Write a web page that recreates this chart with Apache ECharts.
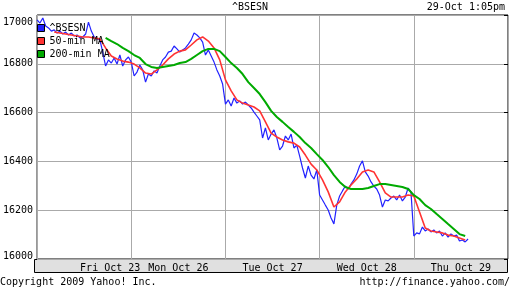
<!DOCTYPE html>
<html><head><meta charset="utf-8">
<script src="https://cdn.jsdelivr.net/npm/echarts@6/dist/echarts.min.js"></script>
<style>html,body{margin:0;padding:0;background:#fff}#c{width:512px;height:288px}</style>
</head><body><div id="c"></div>
<script>
// Day labels (x axis band)
const dayLabels = ['Fri Oct 23', 'Mon Oct 26', 'Tue Oct 27', 'Wed Oct 28', 'Thu Oct 29'];
const minutesPerDay = 330;
const dayCount = 5;

// ^BSESN price, one reading every 10 trading minutes from the start of Fri
const bseStart = 0, bseStep = 10;
const bse = [
  16980,16967,16988,16955,16947,16934,16939,16926,16934,16922,16930,16918,16926,16914,16918,16906,16910,16922,16971,16934,
  16910,16902,16898,16848,16791,16816,16803,16824,16799,16836,16791,16816,16828,16807,16750,16766,16795,16775,16725,16758,
  16750,16771,16762,16791,16816,16828,16848,16852,16873,16861,16848,16857,16865,16881,16898,16926,16918,16906,16889,16836,
  16857,16832,16807,16775,16750,16717,16635,16652,16627,16660,16639,16648,16635,16643,16631,16619,16602,16586,16570,16496,
  16537,16488,16512,16529,16496,16447,16463,16504,16488,16512,16455,16467,16422,16373,16332,16381,16344,16328,16365,16262,
  16242,16221,16201,16168,16144,16221,16258,16279,16299,16287,16307,16324,16348,16381,16402,16357,16340,16316,16299,16287,
  16262,16213,16242,16238,16250,16258,16242,16262,16238,16254,16291,16275,16094,16107,16103,16131,16115,16123,16111,16119,
  16107,16115,16094,16107,16090,16103,16094,16098,16074,16078,16070,16082
];

// 50-min moving average, one reading every 20 minutes
const ma50Start = 60, ma50Step = 20;
const ma50 = [
  16930,16926,16922,16918,16914,16910,16910,16906,16902,16865,16832,16820,16811,16807,16799,16783,16762,16758,16775,16795,
  16820,16840,16852,16857,16877,16898,16910,16893,16865,16816,16734,16689,16652,16639,16631,16623,16607,16562,16516,16500,
  16488,16480,16475,16459,16426,16389,16365,16324,16275,16213,16234,16275,16303,16328,16357,16365,16357,16316,16271,16254,
  16254,16254,16262,16258,16193,16127,16115,16111,16107,16098,16094,16086,16078
];

// 200-min moving average, one reading every 20 minutes
const ma200Start = 240, ma200Step = 20;
const ma200 = [
  16906,16893,16881,16865,16852,16836,16824,16799,16787,16783,16787,16791,16795,16803,16807,16820,16836,16852,16861,16861,
  16852,16828,16803,16783,16758,16725,16701,16676,16643,16607,16582,16562,16541,16521,16500,16475,16455,16430,16406,16377,
  16344,16316,16295,16287,16287,16287,16291,16299,16307,16307,16303,16299,16295,16287,16262,16246,16221,16205,16184,16164,
  16143,16123,16102,16094
];

const seriesNames = ['^BSESN', '50-min MA', '200-min MA'];
const titleText = '^BSESN';
const stampText = '29-Oct 1:05pm';
const copyrightText = 'Copyright 2009 Yahoo! Inc.';
const urlText = 'http://finance.yahoo.com/';

const toPairs = (arr, start, step) => arr.map((v, i) => [start + i * step, v]);
const FONT = 'DejaVu Sans Mono';
const txt = { fontFamily: FONT, fontSize: 10, color: '#000', fontWeight: 'normal' };

const chart = echarts.init(document.getElementById('c'), null, { renderer: 'canvas' });
chart.setOption({
  animation: false,
  backgroundColor: '#fff',
  title: [
    { text: titleText, left: 232, top: 2, padding: 0, textStyle: txt },
    { text: stampText, right: 7, top: 2, padding: 0, textStyle: txt },
    { text: copyrightText, left: 0, top: 277, padding: 0, textStyle: txt },
    { text: urlText, right: 2, top: 277, padding: 0, textStyle: txt }
  ],
  legend: {
    orient: 'vertical', left: 37, top: 22, padding: 0,
    itemWidth: 7, itemHeight: 7, itemGap: 1, icon: 'rect',
    selectedMode: false,
    itemStyle: { borderColor: '#000', borderWidth: 1 },
    textStyle: Object.assign({ lineHeight: 12 }, txt),
    data: seriesNames
  },
  grid: { left: 34, top: 15, width: 474, height: 244, show: true, borderColor: '#000', borderWidth: 1, backgroundColor: '#fff', containLabel: false },
  graphic: [{
    type: 'rect', z: 0, silent: true,
    shape: { x: 34.5, y: 259.5, width: 473, height: 13 },
    style: { fill: '#e0e0e0', stroke: '#000', lineWidth: 1 }
  }],
  xAxis: [
    {
      type: 'value', min: 0, max: minutesPerDay * dayCount, interval: minutesPerDay,
      axisLine: { show: false }, axisTick: { show: false }, axisLabel: { show: false },
      splitLine: { show: true, lineStyle: { color: '#aaaaaa', width: 1 } }
    },
    {
      type: 'category', data: dayLabels, position: 'bottom', boundaryGap: true, z: 5,
      axisLine: { show: false }, axisTick: { show: false }, splitLine: { show: false },
      axisLabel: Object.assign({
        margin: 4, interval: 0,
        formatter: (v, i) => i === 0 ? '{f|' + v + '}' : v,
        rich: { f: Object.assign({ padding: [0, 0, 0, 52] }, txt) }
      }, txt)
    }
  ],
  yAxis: [
    {
      type: 'value', min: 16000, max: 17000, interval: 200, position: 'left',
      axisLine: { show: false }, axisTick: { show: false },
      splitLine: { show: true, lineStyle: { color: '#aaaaaa', width: 1 } },
      axisLabel: Object.assign({
        margin: 4,
        formatter: v => v === 17000 ? '{t|' + v + '}' : (v === 16000 ? '{b|' + v + '}' : String(v)),
        rich: {
          t: Object.assign({ padding: [14, 0, 0, 0] }, txt),
          b: Object.assign({ padding: [0, 0, 6, 0] }, txt)
        }
      }, txt)
    },
    {
      type: 'value', min: 16000, max: 17000, interval: 200, position: 'right',
      axisLine: { show: false },
      axisTick: { show: true, inside: true, length: 4, lineStyle: { color: '#000', width: 1 } },
      axisLabel: { show: false }, splitLine: { show: false }
    }
  ],
  series: [
    {
      name: seriesNames[0], type: 'line', xAxisIndex: 0, yAxisIndex: 0, showSymbol: false, symbol: 'none',
      data: toPairs(bse, bseStart, bseStep),
      itemStyle: { color: '#2222ff' }, lineStyle: { color: '#2222ff', width: 1.2 }
    },
    {
      name: seriesNames[1], type: 'line', xAxisIndex: 0, yAxisIndex: 0, showSymbol: false, symbol: 'none',
      data: toPairs(ma50, ma50Start, ma50Step),
      itemStyle: { color: '#ff3333' }, lineStyle: { color: '#ff3333', width: 1.6 }
    },
    {
      name: seriesNames[2], type: 'line', xAxisIndex: 0, yAxisIndex: 0, showSymbol: false, symbol: 'none',
      data: toPairs(ma200, ma200Start, ma200Step),
      itemStyle: { color: '#00aa00' }, lineStyle: { color: '#00aa00', width: 2 }
    }
  ]
});
</script>
</body></html>
